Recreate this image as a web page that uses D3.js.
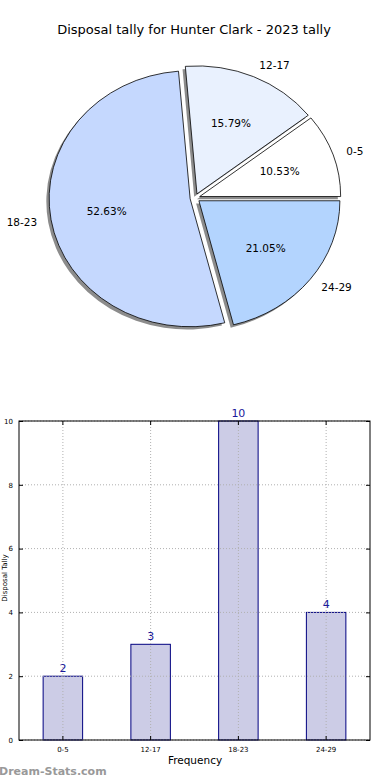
<!DOCTYPE html>
<html><head><meta charset="utf-8">
<script src="https://cdn.jsdelivr.net/npm/d3@7"></script>
<style>
html,body{margin:0;padding:0;background:#fff;}
svg{display:block;font-family:"DejaVu Sans",sans-serif;}
</style></head>
<body>
<script>
const title = "Disposal tally for Hunter Clark - 2023 tally";
const categories = ["0-5", "12-17", "18-23", "24-29"];
const values = [2, 3, 10, 4];
const pieColors = ["#ffffff", "#e9f1fe", "#c5d8fe", "#b3d4fe"];
const yTicks = [0, 2, 4, 6, 8, 10];
const xLabel = "Frequency";
const yLabel = "Disposal Tally";
const watermark = "Dream-Stats.com";

const W = 390, H = 780;
const svg = d3.select("body").append("svg").attr("width", W).attr("height", H);

svg.append("text").attr("x", 194).attr("y", 34).attr("text-anchor", "middle")
  .attr("font-size", 13).attr("fill", "#000").text(title);

// ---------- PIE ----------
const cx = 195, cy = 198, rx = 141, ry = 128;
const explode = 0.035;
const total = d3.sum(values);
const pie = d3.pie().sort(null).startAngle(Math.PI / 2).endAngle(Math.PI / 2 - 2 * Math.PI);
const arcs = pie(values);
const arc = d3.arc().innerRadius(0).outerRadius(rx);
const sy = ry / rx;

const pieG = svg.append("g").attr("transform", `translate(${cx},${cy}) scale(1,${sy})`);
function off(d) {
  const a = (d.startAngle + d.endAngle) / 2;
  return [Math.sin(a) * explode * rx, -Math.cos(a) * explode * rx];
}
// shadows
pieG.selectAll("path.shadow").data(arcs).join("path").attr("class", "shadow")
  .attr("transform", d => { const o = off(d); return `translate(${o[0] - 2.8},${o[1] + 2.8 / sy})`; })
  .attr("d", arc).attr("fill", "#000").attr("fill-opacity", 0.45);
pieG.selectAll("path.slice").data(arcs).join("path").attr("class", "slice")
  .attr("transform", d => { const o = off(d); return `translate(${o[0]},${o[1]})`; })
  .attr("d", arc).attr("fill", (d, i) => pieColors[i])
  .attr("stroke", "#000").attr("stroke-width", 0.8).attr("vector-effect", "non-scaling-stroke");

arcs.forEach((d, i) => {
  const a = (d.startAngle + d.endAngle) / 2;
  const o = off(d);
  const ox = cx + o[0], oy = cy + o[1] * sy;
  const lx = ox + Math.sin(a) * 1.1 * rx, ly = oy - Math.cos(a) * 1.1 * ry;
  svg.append("text").attr("x", lx).attr("y", ly).attr("dy", "0.35em")
    .attr("text-anchor", Math.sin(a) > 0 ? "start" : "end")
    .attr("font-size", 10.5).text(categories[i]);
  const px = ox + Math.sin(a) * 0.6 * rx, py = oy - Math.cos(a) * 0.6 * ry;
  svg.append("text").attr("x", px).attr("y", py).attr("dy", "0.35em")
    .attr("text-anchor", "middle").attr("font-size", 10.5)
    .text((d.value / total * 100).toFixed(2) + "%");
});

// ---------- BAR ----------
const m = { l: 19, r: 370, t: 421, b: 740 };
const x = d3.scaleBand().domain(categories).range([m.l, m.r]).paddingInner(0.55).paddingOuter(0.275);
const y = d3.scaleLinear().domain([0, 10]).range([m.b, m.t]);
const bg = svg.append("g");

bg.selectAll("rect.bar").data(values).join("rect").attr("class", "bar")
  .attr("x", (d, i) => x(categories[i])).attr("width", x.bandwidth())
  .attr("y", d => y(d)).attr("height", d => y(0) - y(d))
  .attr("fill", "#cccce6").attr("stroke", "#000080").attr("stroke-width", 1);

// grid
bg.selectAll("line.hg").data(yTicks).join("line").attr("class", "hg")
  .attr("x1", m.l).attr("x2", m.r).attr("y1", d => y(d)).attr("y2", d => y(d))
  .attr("stroke", "#b0b0b0").attr("stroke-width", 1).attr("stroke-dasharray", "1,2");
bg.selectAll("line.vg").data(categories).join("line").attr("class", "vg")
  .attr("x1", d => x(d) + x.bandwidth() / 2).attr("x2", d => x(d) + x.bandwidth() / 2)
  .attr("y1", m.t).attr("y2", m.b)
  .attr("stroke", "#b0b0b0").attr("stroke-width", 1).attr("stroke-dasharray", "1,2");

// axes via d3
const yAxis = d3.axisLeft(y).tickValues(yTicks).tickSize(-4).tickPadding(6).tickFormat(d3.format("d"));
const ya = bg.append("g").attr("transform", `translate(${m.l},0)`).call(yAxis);
ya.select(".domain").remove();
ya.selectAll("text").attr("font-size", 7).attr("font-family", "DejaVu Sans");
const yAxisR = d3.axisRight(y).tickValues(yTicks).tickSize(-4).tickFormat("");
const yar = bg.append("g").attr("transform", `translate(${m.r},0)`).call(yAxisR);
yar.select(".domain").remove();
const xAxis = d3.axisBottom(x).tickSize(-4).tickPadding(7);
const xa = bg.append("g").attr("transform", `translate(0,${m.b})`).call(xAxis);
xa.select(".domain").remove();
xa.selectAll("text").attr("font-size", 7).attr("font-family", "DejaVu Sans");
const xAxisT = d3.axisTop(x).tickSize(-4).tickFormat("");
const xat = bg.append("g").attr("transform", `translate(0,${m.t})`).call(xAxisT);
xat.select(".domain").remove();

bg.append("rect").attr("x", m.l).attr("y", m.t).attr("width", m.r - m.l).attr("height", m.b - m.t)
  .attr("fill", "none").attr("stroke", "#000").attr("stroke-width", 1);

bg.selectAll("text.val").data(values).join("text").attr("class", "val")
  .attr("x", (d, i) => x(categories[i]) + x.bandwidth() / 2).attr("y", d => y(d) - 4)
  .attr("text-anchor", "middle").attr("font-size", 11).attr("fill", "#1a1a9a").text(d => d);

svg.append("text").attr("x", 195).attr("y", 764).attr("text-anchor", "middle")
  .attr("font-size", 10.5).text(xLabel);
svg.append("text").attr("transform", `translate(7,578) rotate(-90)`).attr("text-anchor", "middle")
  .attr("font-size", 7).text(yLabel);

svg.append("text").attr("x", -1).attr("y", 775).attr("font-size", 11)
  .attr("fill", "#999").attr("font-weight", 600).text(watermark);
</script>
</body></html>
